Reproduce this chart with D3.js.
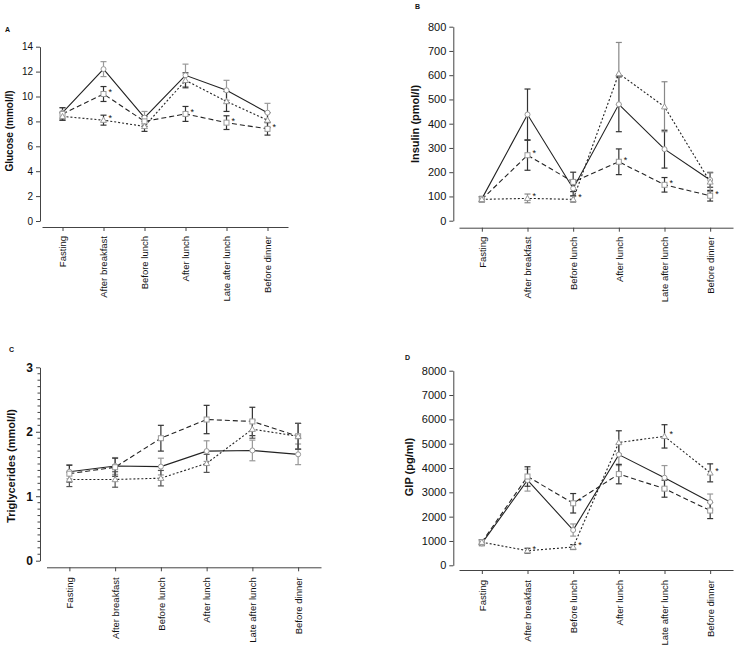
<!DOCTYPE html>
<html><head><meta charset="utf-8">
<script src="https://cdn.jsdelivr.net/npm/d3@7"></script>
<style>body{margin:0;background:#fff}svg{display:block;font-family:"Liberation Sans",Arial,sans-serif}</style>
</head><body>
<svg id="c" width="738" height="653"></svg>
<script>
const categories = ["Fasting","After breakfast","Before lunch","After lunch","Late after lunch","Before dinner"];

// Panel A: Glucose (mmol/l)
const glucoseSolid = [8.7,12.2,8.3,11.7,10.5,8.7];
const glucoseSolidErr = [0.4,0.6,0.5,0.9,0.8,0.75];
const glucoseDashed = [8.6,10.2,8.0,8.6,7.9,7.4];
const glucoseDashedErr = [0.5,0.6,0.4,0.6,0.55,0.5];
const glucoseDotted = [8.4,8.1,7.6,11.3,9.6,8.1];
const glucoseDottedErr = [0.3,0.4,0.4,0.6,0.8,0.6];
const glucoseDashedStar = [0,1,0,1,1,1];
const glucoseDottedStar = [0,1,0,0,0,0];
const glucoseTicks = [0,2,4,6,8,10,12,14];

// Panel B: Insulin (pmol/l)
const insulinSolid = [90,438,133,480,295,168];
const insulinSolidErr = [10,105,30,113,78,30];
const insulinDashed = [88,270,160,243,148,103];
const insulinDashedErr = [10,62,40,53,30,22];
const insulinDotted = [88,92,88,607,470,160];
const insulinDottedErr = [10,18,12,128,103,40];
const insulinDashedStar = [0,1,0,1,1,1];
const insulinDottedStar = [0,1,1,0,0,0];
const insulinTicks = [0,100,200,300,400,500,600,700,800];

// Panel C: Triglycerides (mmol/l)
const tgSolid = [1.38,1.47,1.46,1.70,1.71,1.65];
const tgSolidErr = [0.11,0.13,0.13,0.16,0.16,0.16];
const tgDashed = [1.35,1.45,1.90,2.19,2.16,1.93];
const tgDashedErr = [0.13,0.14,0.20,0.22,0.22,0.20];
const tgDotted = [1.26,1.26,1.28,1.51,2.04,1.93];
const tgDottedErr = [0.11,0.12,0.12,0.14,0.14,0.20];
const tgDashedStar = [0,0,0,0,0,0];
const tgDottedStar = [0,0,0,0,0,0];
const tgTicks = [0,1,2,3];

// Panel D: GIP (pg/ml)
const gipSolid = [900,3500,1450,4550,3600,2600];
const gipSolidErr = [100,450,250,450,500,330];
const gipDashed = [950,3650,2550,3750,3150,2250];
const gipDashedErr = [100,400,400,400,350,330];
const gipDotted = [950,600,750,5050,5300,3800];
const gipDottedErr = [100,100,100,480,480,370];
const gipDashedStar = [0,0,1,0,0,0];
const gipDottedStar = [0,1,1,0,1,1];
const gipTicks = [0,1000,2000,3000,4000,5000,6000,7000,8000];

const svg = d3.select("#c");

function panel(cfg) {
  const g = svg.append("g");
  const x = d3.scalePoint().domain(categories).range([cfg.x0, cfg.x1]).padding(0.5);
  const y = d3.scaleLinear().domain([0, cfg.max]).range([cfg.yBottom, cfg.yTop]);

  // y axis
  const ya = g.append("g").attr("transform", `translate(${cfg.axisX},0)`)
    .call(d3.axisLeft(y).tickValues(cfg.ticks).tickFormat(d3.format("d")).tickSize(4).tickPadding(3).tickSizeOuter(0));
  ya.select(".domain").attr("stroke", "#444");
  ya.selectAll(".tick line").attr("stroke", "#444");
  ya.selectAll(".tick text").attr("font-size", cfg.tickFont).attr("font-weight", cfg.tickBold ? "bold" : "normal")
    .attr("fill", "#111").attr("font-family", "Liberation Sans, Arial, sans-serif");
  if (cfg.minor) {
    const minor = d3.range(0, cfg.max + 1e-9, cfg.minor).filter(v => Math.abs(v - Math.round(v)) > 1e-6);
    g.append("g").selectAll("line").data(minor).join("line")
      .attr("x1", cfg.axisX - 2.5).attr("x2", cfg.axisX)
      .attr("y1", d => y(d)).attr("y2", d => y(d)).attr("stroke", "#444");
  }

  // x axis
  const xa = g.append("g").attr("transform", `translate(0,${cfg.xAxisY})`)
    .call(d3.axisBottom(x).tickSize(4).tickSizeOuter(0));
  xa.select(".domain").attr("stroke", "#444");
  xa.selectAll(".tick line").attr("stroke", "#444");
  xa.selectAll(".tick text").attr("font-size", 9.5).attr("fill", "#111")
    .attr("font-family", "Liberation Sans, Arial, sans-serif")
    .attr("transform", "rotate(-90)").attr("text-anchor", "end")
    .attr("x", -cfg.labelGap).attr("y", 0).attr("dy", "0.35em");

  // y label
  g.append("text").attr("transform", `translate(${cfg.yLabX},${cfg.yLabY}) rotate(-90)`)
    .attr("text-anchor", "middle").attr("dy", "0.35em").attr("font-size", cfg.yLabFont)
    .attr("font-weight", "bold").attr("fill", "#111").text(cfg.yLabel);

  // panel letter
  g.append("text").attr("x", cfg.letterX).attr("y", cfg.letterY).attr("font-size", 7)
    .attr("font-weight", "bold").attr("fill", "#111").text(cfg.letter);

  const styles = [
    {key: "solid", dash: null, marker: "circle"},
    {key: "dashed", dash: "5,3", marker: "square"},
    {key: "dotted", dash: "2,2", marker: "triangle"}
  ];
  const line = d3.line().x((d, i) => x(categories[i])).y(d => y(d));

  styles.forEach((s, si) => {
    const ser = cfg.series[si];
    const eg = g.append("g").attr("stroke", ser.errColor).attr("stroke-width", 1.2);
    ser.values.forEach((v, i) => {
      const cx = x(categories[i]);
      const e = ser.err[i];
      eg.append("line").attr("x1", cx).attr("x2", cx).attr("y1", y(v - e)).attr("y2", y(v + e));
      eg.append("line").attr("x1", cx - 3).attr("x2", cx + 3).attr("y1", y(v - e)).attr("y2", y(v - e));
      eg.append("line").attr("x1", cx - 3).attr("x2", cx + 3).attr("y1", y(v + e)).attr("y2", y(v + e));
    });
  });
  styles.forEach((s, si) => {
    const ser = cfg.series[si];
    g.append("path").datum(ser.values).attr("d", line).attr("fill", "none")
      .attr("stroke", "#222").attr("stroke-width", 1.1)
      .attr("stroke-dasharray", s.dash);
  });
  styles.forEach((s, si) => {
    const ser = cfg.series[si];
    const mg = g.append("g").attr("fill", "#fff").attr("stroke", "#999").attr("stroke-width", 1);
    ser.values.forEach((v, i) => {
      const cx = x(categories[i]), cy = y(v);
      if (s.marker === "circle") mg.append("circle").attr("cx", cx).attr("cy", cy).attr("r", 2.5);
      else if (s.marker === "square") mg.append("rect").attr("x", cx - 2.5).attr("y", cy - 2.5).attr("width", 5).attr("height", 5);
      else mg.append("path").attr("d", `M${cx},${cy - 3}L${cx + 3},${cy + 2.2}L${cx - 3},${cy + 2.2}Z`);
    });
    if (ser.stars) {
      ser.values.forEach((v, i) => {
        if (ser.stars[i]) g.append("text").attr("x", x(categories[i]) + 5).attr("y", y(v) + 1)
          .attr("font-size", 9).attr("fill", "#111").text("*");
      });
    }
  });
}

panel({
  letter: "A", letterX: 5, letterY: 32,
  x0: 42, x1: 288, axisX: 40, yBottom: 221, yTop: 46.7, max: 14, ticks: glucoseTicks,
  xAxisY: 227, labelGap: 9, tickFont: 10, tickBold: false,
  yLabel: "Glucose (mmol/l)", yLabX: 9, yLabY: 131, yLabFont: 10,
  series: [
    {values: glucoseSolid, err: glucoseSolidErr, errColor: "#999", stars: null},
    {values: glucoseDashed, err: glucoseDashedErr, errColor: "#333", stars: glucoseDashedStar},
    {values: glucoseDotted, err: glucoseDottedErr, errColor: "#333", stars: glucoseDottedStar}
  ]
});

panel({
  letter: "B", letterX: 415, letterY: 9,
  x0: 459, x1: 733, axisX: 453.3, yBottom: 220.7, yTop: 26.7, max: 800, ticks: insulinTicks,
  xAxisY: 227.7, labelGap: 9, tickFont: 11, tickBold: false,
  yLabel: "Insulin (pmol/l)", yLabX: 415, yLabY: 124, yLabFont: 11,
  series: [
    {values: insulinSolid, err: insulinSolidErr, errColor: "#333", stars: null},
    {values: insulinDashed, err: insulinDashedErr, errColor: "#333", stars: insulinDashedStar},
    {values: insulinDotted, err: insulinDottedErr, errColor: "#888", stars: insulinDottedStar}
  ]
});

panel({
  letter: "C", letterX: 9, letterY: 352,
  x0: 46.5, x1: 321, axisX: 40, yBottom: 560.7, yTop: 367.3, max: 3, ticks: tgTicks, minor: 0.1,
  xAxisY: 567.3, labelGap: 10, tickFont: 12, tickBold: true,
  yLabel: "Triglycerides (mmol/l)", yLabX: 11, yLabY: 466, yLabFont: 11,
  series: [
    {values: tgSolid, err: tgSolidErr, errColor: "#999", stars: null},
    {values: tgDashed, err: tgDashedErr, errColor: "#333", stars: tgDashedStar},
    {values: tgDotted, err: tgDottedErr, errColor: "#555", stars: tgDottedStar}
  ]
});

panel({
  letter: "D", letterX: 405, letterY: 360,
  x0: 459, x1: 733, axisX: 453.3, yBottom: 565.3, yTop: 370.7, max: 8000, ticks: gipTicks,
  xAxisY: 570, labelGap: 10, tickFont: 11, tickBold: false,
  yLabel: "GIP (pg/ml)", yLabX: 409, yLabY: 467, yLabFont: 11,
  series: [
    {values: gipSolid, err: gipSolidErr, errColor: "#999", stars: null},
    {values: gipDashed, err: gipDashedErr, errColor: "#333", stars: gipDashedStar},
    {values: gipDotted, err: gipDottedErr, errColor: "#333", stars: gipDottedStar}
  ]
});
</script>
</body></html>
